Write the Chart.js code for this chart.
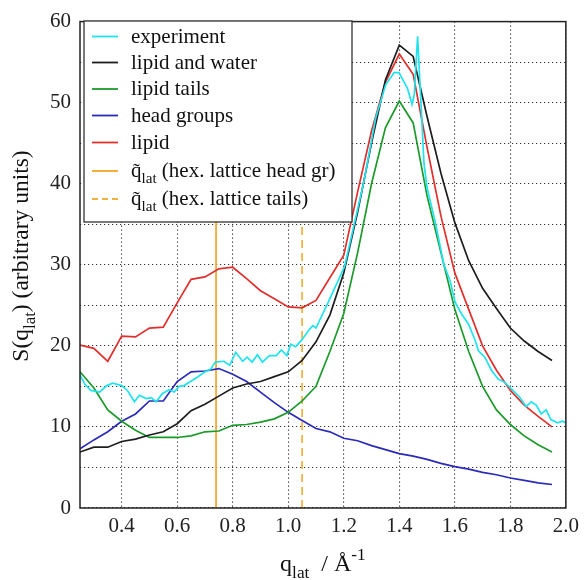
<!DOCTYPE html>
<html>
<head>
<meta charset="utf-8">
<script src="https://cdn.jsdelivr.net/npm/chart.js@4.4.0/dist/chart.umd.min.js"></script>
<style>
  html, body { margin: 0; padding: 0; background: #fff; }
</style>
</head>
<body>
<canvas id="sq-chart" width="585" height="580"></canvas>
<script>
// simulation q grid (1/Angstrom)
const qSim = [0.25, 0.30, 0.35, 0.40, 0.45, 0.50, 0.55, 0.60, 0.65, 0.70, 0.75, 0.80, 0.85, 0.90, 0.95, 1.00, 1.05, 1.10,
              1.15, 1.20, 1.25, 1.30, 1.35, 1.40, 1.45, 1.50, 1.55, 1.60, 1.65, 1.70, 1.75, 1.80, 1.85, 1.90, 1.95];
const sLipidWater = [6.9, 7.5, 7.5, 8.2, 8.5, 9.0, 9.4, 10.4, 12.0, 12.8, 13.8, 14.8, 15.3, 15.6, 16.2, 16.8, 18.2, 20.5,
                     23.8, 29.0, 36.5, 45.0, 52.8, 57.1, 55.7, 48.3, 41.3, 35.2, 30.5, 27.1, 24.6, 22.2, 20.6, 19.3, 18.2];
const sLipidTails = [16.8, 14.8, 12.1, 10.7, 9.6, 8.7, 8.7, 8.7, 8.9, 9.4, 9.5, 10.2, 10.3, 10.6, 11.0, 11.8, 13.2, 15.0,
                     19.3, 24.0, 31.5, 40.0, 46.9, 50.2, 47.5, 38.5, 31.5, 24.5, 19.3, 15.0, 12.1, 10.3, 8.9, 7.8, 6.9];
const sHeadGroups = [7.3, 8.4, 9.4, 10.7, 11.6, 13.2, 13.2, 15.6, 16.8, 16.9, 17.2, 16.5, 15.6, 14.3, 13.0, 11.8, 10.8, 9.8,
                     9.4, 8.6, 8.3, 7.7, 7.2, 6.7, 6.4, 6.0, 5.5, 5.1, 4.8, 4.4, 4.1, 3.7, 3.4, 3.1, 2.9];
const sLipid = [20.1, 19.7, 18.1, 21.2, 21.1, 22.2, 22.3, 25.3, 28.2, 28.5, 29.5, 29.7, 28.3, 26.8, 25.8, 24.8, 24.7, 25.6,
                28.4, 31.2, 39.0, 46.5, 52.5, 56.0, 53.5, 44.5, 36.0, 29.0, 24.5, 20.0, 17.0, 14.5, 12.7, 11.3, 10.0];

// experiment
const qExp = [0.25, 0.267, 0.289, 0.321, 0.346, 0.368, 0.40, 0.421, 0.446, 0.464, 0.488, 0.507, 0.525, 0.546, 0.571,
              0.589, 0.607, 0.625, 0.648, 0.675, 0.70, 0.72, 0.737, 0.768, 0.789, 0.811, 0.836, 0.852, 0.87, 0.889,
              0.907, 0.932, 0.957, 0.975, 0.995, 1.009, 1.027, 1.048, 1.078, 1.089, 1.10, 1.143, 1.203, 1.274, 1.315,
              1.351, 1.381, 1.399, 1.429, 1.446, 1.454, 1.466, 1.478, 1.489, 1.50, 1.53, 1.56, 1.583, 1.601, 1.625,
              1.649, 1.673, 1.685, 1.708, 1.732, 1.756, 1.78, 1.804, 1.833, 1.857, 1.875, 1.893, 1.911, 1.929, 1.946,
              1.97, 1.988, 2.0];
const sExp = [16.4, 15.3, 14.5, 14.3, 15.1, 15.4, 15.1, 14.5, 13.1, 13.9, 13.5, 13.6, 13.1, 14.1, 14.6,
              14.3, 15.0, 15.1, 15.6, 16.2, 16.8, 17.1, 18.0, 18.1, 17.6, 19.2, 18.1, 18.6, 18.0, 18.9,
              18.0, 18.8, 18.8, 19.5, 18.8, 20.2, 19.9, 20.7, 22.1, 22.5, 22.2, 25.3, 29.8, 40.5, 48.1,
              52.2, 53.7, 53.7, 51.8, 49.8, 51.0, 58.2, 50.0, 42.5, 39.5, 35.2, 30.1, 28.0, 25.4, 23.9,
              22.7, 20.7, 19.4, 18.6, 17.0, 15.9, 15.5, 14.7, 13.7, 12.5, 13.1, 12.7, 11.6, 12.1, 10.9,
              10.5, 10.7, 10.5];

// hexagonal lattice q values
const qHexHead = 0.74;
const qHexTails = 1.05;

const xTicks = [0.4, 0.6, 0.8, 1.0, 1.2, 1.4, 1.6, 1.8, 2.0];
const yRange = [0, 60];

const SERIF = '"Liberation Serif", "Times New Roman", serif';

function pts(xs, ys) {
    return xs.map(function (x, i) { return { x: x, y: ys[i] }; });
}

// text pieces: kind 0 normal, 1 subscript, 2 superscript, 3 letter with tilde
function drawRich(ctx, parts, x, y, size) {
    let cx = x;
    parts.forEach(function (p) {
        const t = p[0], k = p[1];
        const fs = (k === 1 || k === 2) ? size * 0.72 : size;
        ctx.font = fs + 'px ' + SERIF;
        const dy = k === 1 ? size * 0.3 : (k === 2 ? -size * 0.45 : 0);
        ctx.fillText(t, cx, y + dy);
        const w = ctx.measureText(t).width;
        if (k === 3) {
            ctx.textAlign = 'center';
            ctx.fillText('\u02dc', cx + w / 2, y + 1);
            ctx.textAlign = 'left';
        }
        cx += w;
    });
    return cx - x;
}

function richWidth(ctx, parts, size) {
    let w = 0;
    parts.forEach(function (p) {
        const fs = (p[1] === 1 || p[1] === 2) ? size * 0.72 : size;
        ctx.font = fs + 'px ' + SERIF;
        w += ctx.measureText(p[0]).width;
    });
    return w;
}

const decorPlugin = {
    id: 'decor',
    afterDraw: function (chart) {
        const ctx = chart.ctx;
        const a = chart.chartArea;
        ctx.save();
        // frame
        ctx.strokeStyle = '#222';
        ctx.lineWidth = 1.5;
        ctx.setLineDash([]);
        ctx.strokeRect(a.left, a.top, a.right - a.left, a.bottom - a.top);

        ctx.fillStyle = '#111';
        ctx.textAlign = 'left';
        ctx.textBaseline = 'alphabetic';

        // x title
        const xt = [['q', 0], ['lat', 1], ['  / \u00c5', 0], ['-1', 2]];
        const xw = richWidth(ctx, xt, 24);
        drawRich(ctx, xt, (a.left + a.right) / 2 - xw / 2, 571, 24);

        // y title
        const yt = [['S(q', 0], ['lat', 1], [') (arbitrary units)', 0]];
        ctx.save();
        ctx.translate(28, 256);
        ctx.rotate(-Math.PI / 2);
        const yw = richWidth(ctx, yt, 23.5);
        drawRich(ctx, yt, -yw / 2, 0, 23.5);
        ctx.restore();

        // legend box
        const bx = 84, by = 21, bw = 268, bh = 201;
        ctx.fillStyle = '#fff';
        ctx.fillRect(bx, by, bw, bh);
        ctx.strokeStyle = '#333';
        ctx.lineWidth = 1.3;
        ctx.strokeRect(bx, by, bw, bh);
        const rowY = [36.5, 62.5, 89, 115.5, 142.5, 171, 199];
        chart.data.datasets.forEach(function (ds, i) {
            const y = rowY[i];
            ctx.strokeStyle = ds.borderColor;
            ctx.lineWidth = 1.8;
            ctx.setLineDash(ds.borderDash ? [6, 4] : []);
            ctx.beginPath();
            ctx.moveTo(92, y);
            ctx.lineTo(118, y);
            ctx.stroke();
            ctx.setLineDash([]);
            ctx.fillStyle = '#111';
            drawRich(ctx, ds.legendParts, 131, y + 6, 21);
        });
        ctx.restore();
    }
};

const datasets = [
    { label: 'experiment', legendParts: [['experiment', 0]], data: pts(qExp, sExp), borderColor: '#20e3ee' },
    { label: 'lipid and water', legendParts: [['lipid and water', 0]], data: pts(qSim, sLipidWater), borderColor: '#1e1e1e' },
    { label: 'lipid tails', legendParts: [['lipid tails', 0]], data: pts(qSim, sLipidTails), borderColor: '#1c9a2c' },
    { label: 'head groups', legendParts: [['head groups', 0]], data: pts(qSim, sHeadGroups), borderColor: '#2b2bb8' },
    { label: 'lipid', legendParts: [['lipid', 0]], data: pts(qSim, sLipid), borderColor: '#e0302e' },
    { label: 'q_lat (hex. lattice head gr)', legendParts: [['q', 3], ['lat', 1], [' (hex. lattice head gr)', 0]],
      data: pts([qHexHead, qHexHead], yRange), borderColor: '#f5a623' },
    { label: 'q_lat (hex. lattice tails)', legendParts: [['q', 3], ['lat', 1], [' (hex. lattice tails)', 0]],
      data: pts([qHexTails, qHexTails], yRange), borderColor: '#f1b13c', borderDash: [8, 5] }
];
datasets.forEach(function (ds) {
    ds.borderWidth = 1.7;
    ds.pointRadius = 0;
    ds.tension = 0;
    ds.fill = false;
});

new Chart(document.getElementById('sq-chart'), {
    type: 'line',
    data: { datasets: datasets },
    options: {
        responsive: false,
        animation: false,
        layout: { padding: { left: 0, top: 20, right: 14, bottom: 0 } },
        plugins: { legend: { display: false }, tooltip: { enabled: false } },
        scales: {
            x: {
                type: 'linear',
                min: 0.25,
                max: 2.0,
                afterBuildTicks: function (s) { s.ticks = xTicks.map(function (v) { return { value: v }; }); },
                afterFit: function (s) { s.height = 72; },
                ticks: {
                    autoSkip: false,
                    maxRotation: 0,
                    padding: 6,
                    color: '#222',
                    font: { family: SERIF, size: 21 },
                    callback: function (v) { return Number(v).toFixed(1); }
                },
                grid: { color: '#333', lineWidth: 1.1, drawTicks: false },
                border: { display: false, dash: [1.2, 2.8] }
            },
            y: {
                min: yRange[0],
                max: yRange[1],
                afterFit: function (s) { s.width = 80; },
                ticks: {
                    stepSize: 5,
                    padding: 9,
                    color: '#222',
                    font: { family: SERIF, size: 21 },
                    callback: function (v) { return v % 10 === 0 ? v : ''; }
                },
                grid: { color: '#333', lineWidth: 1.1, drawTicks: false },
                border: { display: false, dash: [1.2, 2.8] }
            }
        }
    },
    plugins: [decorPlugin]
});
</script>
</body>
</html>
